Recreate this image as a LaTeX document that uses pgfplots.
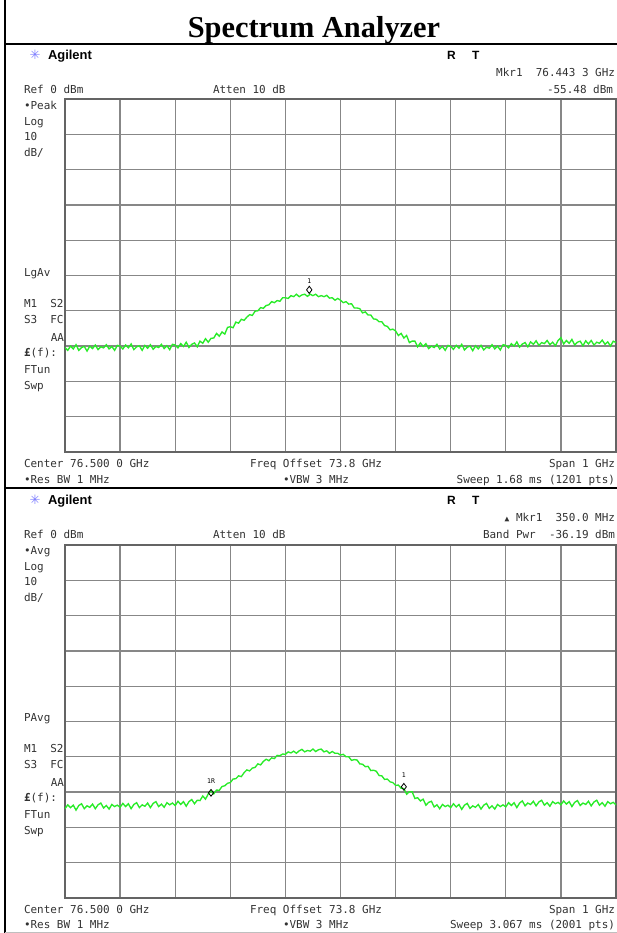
\documentclass[border=0pt]{standalone}
\usepackage{fontspec}
\usepackage{pgfplots}
\pgfplotsset{compat=1.18}
\usepackage{pgfplotstable}
\setmainfont{Liberation Serif}
\newfontfamily\mono{DejaVu Sans Mono}
\newfontfamily\arial{Liberation Sans}
\newfontfamily\djs{DejaVu Sans}
\definecolor{trace}{RGB}{40,235,40}
\definecolor{gridc}{RGB}{135,135,135}
\definecolor{boxc}{RGB}{100,100,100}
\definecolor{txt}{RGB}{50,50,50}
\definecolor{agstar}{RGB}{125,125,255}

\pgfplotstableread{
x y
76.000 -70.4
76.005 -71.2
76.010 -70.0
76.015 -70.8
76.020 -69.6
76.025 -71.2
76.030 -70.4
76.035 -70.1
76.040 -71.4
76.045 -70.0
76.050 -70.7
76.055 -69.7
76.060 -71.0
76.065 -70.2
76.070 -70.5
76.075 -69.6
76.080 -70.8
76.085 -70.1
76.090 -71.2
76.095 -69.8
76.100 -70.0
76.105 -70.8
76.110 -69.7
76.115 -70.5
76.120 -69.4
76.125 -71.0
76.130 -70.2
76.135 -69.9
76.140 -71.2
76.145 -69.8
76.150 -70.6
76.155 -69.6
76.160 -70.9
76.165 -70.1
76.170 -70.4
76.175 -69.5
76.180 -70.7
76.185 -69.9
76.190 -71.0
76.195 -69.5
76.200 -69.7
76.205 -70.5
76.210 -69.3
76.215 -70.1
76.220 -68.9
76.225 -70.4
76.230 -69.5
76.235 -69.1
76.240 -70.2
76.245 -68.6
76.250 -69.2
76.255 -67.9
76.260 -68.9
76.265 -67.8
76.270 -67.7
76.275 -66.4
76.280 -67.2
76.285 -66.0
76.290 -66.6
76.295 -64.7
76.300 -64.5
76.305 -64.8
76.310 -63.2
76.315 -63.5
76.320 -62.4
76.325 -62.7
76.330 -61.8
76.335 -61.1
76.340 -61.3
76.345 -60.1
76.350 -60.0
76.355 -59.1
76.360 -59.3
76.365 -58.5
76.370 -58.3
76.375 -57.4
76.380 -57.7
76.385 -57.1
76.390 -57.3
76.395 -56.3
76.400 -56.3
76.405 -56.5
76.410 -55.7
76.415 -56.0
76.420 -55.3
76.425 -56.0
76.430 -55.5
76.435 -55.3
76.440 -55.9
76.445 -55.3
76.450 -55.7
76.455 -55.3
76.460 -56.0
76.465 -55.7
76.470 -56.0
76.475 -55.6
76.480 -56.4
76.485 -56.3
76.490 -57.0
76.495 -56.5
76.500 -57.0
76.505 -57.7
76.510 -57.4
76.515 -58.1
76.520 -58.0
76.525 -59.2
76.530 -59.2
76.535 -59.4
76.540 -60.6
76.545 -60.3
76.550 -61.2
76.555 -61.2
76.560 -62.3
76.565 -62.4
76.570 -63.1
76.575 -63.1
76.580 -64.2
76.585 -64.4
76.590 -65.4
76.595 -65.2
76.600 -65.7
76.605 -67.0
76.610 -66.4
76.615 -67.7
76.620 -67.0
76.625 -69.0
76.630 -68.6
76.635 -68.6
76.640 -70.2
76.645 -69.1
76.650 -70.1
76.655 -69.3
76.660 -70.7
76.665 -70.0
76.670 -70.4
76.675 -69.5
76.680 -70.8
76.685 -70.1
76.690 -71.2
76.695 -69.8
76.700 -70.1
76.705 -70.9
76.710 -69.8
76.715 -70.6
76.720 -69.5
76.725 -71.1
76.730 -70.3
76.735 -70.0
76.740 -71.3
76.745 -69.9
76.750 -70.8
76.755 -69.8
76.760 -71.1
76.765 -70.3
76.770 -70.6
76.775 -69.6
76.780 -70.8
76.785 -70.0
76.790 -71.1
76.795 -69.6
76.800 -69.8
76.805 -70.5
76.810 -69.3
76.815 -70.0
76.820 -68.8
76.825 -70.3
76.830 -69.4
76.835 -69.0
76.840 -70.2
76.845 -68.8
76.850 -69.5
76.855 -68.5
76.860 -69.8
76.865 -69.0
76.870 -69.3
76.875 -68.4
76.880 -69.6
76.885 -68.9
76.890 -69.9
76.895 -68.4
76.900 -67.6
76.905 -69.4
76.910 -68.4
76.915 -69.2
76.920 -68.1
76.925 -69.7
76.930 -68.9
76.935 -68.6
76.940 -69.9
76.945 -68.5
76.950 -69.4
76.955 -68.4
76.960 -69.7
76.965 -68.9
76.970 -69.2
76.975 -68.3
76.980 -69.5
76.985 -68.8
76.990 -70.0
76.995 -68.6
77.000 -69.0
}\toptrace

\pgfplotstableread{
x y
76.000 -74.7
76.005 -73.6
76.010 -74.4
76.015 -73.7
76.020 -75.1
76.025 -73.8
76.030 -73.3
76.035 -74.7
76.040 -73.9
76.045 -74.3
76.050 -73.4
76.055 -74.7
76.060 -73.6
76.065 -73.1
76.070 -74.5
76.075 -73.8
76.080 -74.8
76.085 -73.5
76.090 -74.1
76.095 -73.7
76.100 -74.3
76.105 -73.2
76.110 -74.1
76.115 -73.3
76.120 -74.7
76.125 -73.5
76.130 -73.0
76.135 -74.4
76.140 -73.6
76.145 -74.0
76.150 -73.1
76.155 -74.4
76.160 -73.2
76.165 -72.7
76.170 -74.1
76.175 -73.4
76.180 -74.3
76.185 -73.0
76.190 -73.6
76.195 -73.1
76.200 -73.8
76.205 -72.6
76.210 -73.5
76.215 -72.7
76.220 -74.0
76.225 -72.7
76.230 -72.1
76.235 -73.3
76.240 -72.3
76.245 -72.4
76.250 -71.1
76.255 -72.0
76.260 -70.5
76.265 -69.6
76.270 -70.5
76.275 -69.4
76.280 -69.5
76.285 -68.4
76.290 -68.2
76.295 -67.5
76.300 -67.3
76.305 -66.3
76.310 -66.2
76.315 -65.4
76.320 -65.6
76.325 -64.5
76.330 -63.7
76.335 -64.0
76.340 -63.2
76.345 -63.0
76.350 -62.0
76.355 -62.3
76.360 -61.3
76.365 -60.7
76.370 -61.1
76.375 -60.3
76.380 -60.5
76.385 -59.6
76.390 -59.7
76.395 -59.2
76.400 -59.3
76.405 -58.6
76.410 -58.9
76.415 -58.4
76.420 -59.0
76.425 -58.3
76.430 -57.9
76.435 -58.6
76.440 -58.2
76.445 -58.4
76.450 -57.8
76.455 -58.5
76.460 -58.0
76.465 -57.8
76.470 -58.6
76.475 -58.3
76.480 -59.0
76.485 -58.5
76.490 -59.0
76.495 -59.0
76.500 -59.5
76.505 -59.3
76.510 -60.0
76.515 -60.0
76.520 -61.0
76.525 -60.8
76.530 -60.9
76.535 -62.0
76.540 -62.1
76.545 -62.8
76.550 -62.7
76.555 -63.9
76.560 -63.8
76.565 -64.1
76.570 -65.3
76.575 -65.4
76.580 -66.4
76.585 -66.3
76.590 -67.1
76.595 -67.3
76.600 -68.1
76.605 -68.0
76.610 -68.9
76.615 -69.0
76.620 -70.6
76.625 -69.9
76.630 -69.9
76.635 -71.8
76.640 -71.6
76.645 -72.5
76.650 -72.0
76.655 -73.7
76.660 -72.9
76.665 -72.6
76.670 -74.2
76.675 -73.6
76.680 -74.7
76.685 -73.5
76.690 -74.1
76.695 -73.7
76.700 -74.4
76.705 -73.3
76.710 -74.2
76.715 -73.5
76.720 -74.9
76.725 -73.7
76.730 -73.2
76.735 -74.6
76.740 -73.9
76.745 -74.3
76.750 -73.5
76.755 -74.8
76.760 -73.7
76.765 -73.2
76.770 -74.6
76.775 -73.9
76.780 -74.8
76.785 -73.5
76.790 -74.1
76.795 -73.6
76.800 -74.2
76.805 -73.0
76.810 -73.8
76.815 -73.0
76.820 -74.4
76.825 -73.1
76.830 -72.5
76.835 -73.9
76.840 -73.1
76.845 -73.5
76.850 -72.6
76.855 -73.9
76.860 -72.8
76.865 -72.3
76.870 -73.7
76.875 -73.0
76.880 -74.0
76.885 -72.7
76.890 -73.3
76.895 -72.9
76.900 -73.6
76.905 -72.5
76.910 -73.4
76.915 -72.7
76.920 -74.1
76.925 -72.9
76.930 -72.4
76.935 -73.8
76.940 -73.1
76.945 -73.5
76.950 -72.6
76.955 -73.9
76.960 -72.8
76.965 -72.3
76.970 -73.7
76.975 -73.0
76.980 -74.0
76.985 -72.7
76.990 -73.3
76.995 -72.9
77.000 -73.6
}\bottrace

\newcommand\lb[1]{{\mono\fontsize{11}{11}\selectfont\color{txt}#1}}

\pgfplotsset{sa/.style={
  scale only axis, width=551bp, height=353bp,
  xmin=76, xmax=77, ymin=-100, ymax=0,
  xtick={76,76.1,76.2,76.3,76.4,76.5,76.6,76.7,76.8,76.9,77},
  ytick={-100,-90,-80,-70,-60,-50,-40,-30,-20,-10,0},
  xticklabels={}, yticklabels={}, major tick length=0pt,
  grid=major, major grid style={gridc, line width=1.3bp},
  axis line style={boxc, line width=2bp},
}}

\begin{document}
\begin{tikzpicture}[every node/.style={inner sep=0pt, outer sep=0pt}]
\useasboundingbox (0,0) rectangle (617bp,-933bp);
% frame
\draw[line width=2bp] (5bp,0) -- (5bp,-933bp);
\draw[line width=1.6bp] (5bp,-44bp) -- (617bp,-44bp);
\draw[line width=2bp] (5bp,-488bp) -- (617bp,-488bp);
\draw[black!25, line width=1bp] (5bp,-932bp) -- (617bp,-932bp);
\node[anchor=base] at (314bp,-37bp) {\fontsize{30.5}{31}\selectfont\bfseries Spectrum Analyzer};

% ---------- top panel ----------
\begin{axis}[sa, at={(65bp,-452bp)}, anchor=south west]
\addplot[trace, line width=1.35bp] table[x=x,y=y] {\toptrace};
\addplot[only marks, mark=diamond, mark size=3.6bp,
  mark options={black, fill=white, line width=0.8bp, yshift=5bp}]
  coordinates {(76.4433,-55.48)};
\node[anchor=base, yshift=11bp] at (axis cs:76.4433,-55.48) {\mono\fontsize{6.5}{6.5}\selectfont 1};
\end{axis}

\node[anchor=center, text=agstar] at (35bp,-55bp) {\djs\fontsize{13}{13}\selectfont ✳};
\node[anchor=base west] at (48bp,-59bp) {\arial\bfseries\fontsize{13}{13}\selectfont Agilent};
\node[anchor=base west] at (447bp,-59bp) {\arial\bfseries\fontsize{12}{12}\selectfont R};
\node[anchor=base west] at (472bp,-59bp) {\arial\bfseries\fontsize{12}{12}\selectfont T};
\node[anchor=base east] at (615bp,-76bp) {\lb{Mkr1\ \ 76.443 3 GHz}};
\node[anchor=base west] at (24bp,-93bp) {\lb{Ref 0 dBm}};
\node[anchor=base west] at (213bp,-93bp) {\lb{Atten 10 dB}};
\node[anchor=base east] at (613bp,-93bp) {\lb{-55.48 dBm}};
\node[anchor=base west] at (24bp,-109bp) {\lb{•Peak}};
\node[anchor=base west] at (24bp,-125bp) {\lb{Log}};
\node[anchor=base west] at (24bp,-140bp) {\lb{10}};
\node[anchor=base west] at (24bp,-156bp) {\lb{dB/}};
\node[anchor=base west] at (24bp,-276bp) {\lb{LgAv}};
\node[anchor=base west] at (24bp,-307bp) {\lb{M1\ \ S2}};
\node[anchor=base west] at (24bp,-323bp) {\lb{S3\ \ FC}};
\node[anchor=base east] at (64bp,-341bp) {\lb{AA}};
\node[anchor=base west] at (24bp,-356bp) {\lb{{\bfseries £}(f):}};
\node[anchor=base west] at (24bp,-373bp) {\lb{FTun}};
\node[anchor=base west] at (24bp,-389bp) {\lb{Swp}};
\node[anchor=base west] at (24bp,-467bp) {\lb{Center 76.500 0 GHz}};
\node[anchor=base west] at (250bp,-467bp) {\lb{Freq Offset 73.8 GHz}};
\node[anchor=base east] at (615bp,-467bp) {\lb{Span 1 GHz}};
\node[anchor=base west] at (24bp,-483bp) {\lb{•Res BW 1 MHz}};
\node[anchor=base west] at (283bp,-483bp) {\lb{•VBW 3 MHz}};
\node[anchor=base east] at (615bp,-483bp) {\lb{Sweep 1.68 ms (1201 pts)}};

% ---------- bottom panel ----------
\begin{axis}[sa, at={(65bp,-898bp)}, anchor=south west]
\addplot[trace, line width=1.35bp] table[x=x,y=y] {\bottrace};
\addplot[only marks, mark=diamond, mark size=3.4bp,
  mark options={black, fill=white, line width=0.8bp}]
  coordinates {(76.265,-70.2) (76.615,-68.5)};
\node[anchor=base, yshift=9bp] at (axis cs:76.265,-70.2) {\mono\fontsize{6.5}{6.5}\selectfont 1R};
\node[anchor=base, yshift=9bp] at (axis cs:76.615,-68.5) {\mono\fontsize{6.5}{6.5}\selectfont 1};
\end{axis}

\node[anchor=center, text=agstar] at (35bp,-500bp) {\djs\fontsize{13}{13}\selectfont ✳};
\node[anchor=base west] at (48bp,-504bp) {\arial\bfseries\fontsize{13}{13}\selectfont Agilent};
\node[anchor=base west] at (447bp,-504bp) {\arial\bfseries\fontsize{12}{12}\selectfont R};
\node[anchor=base west] at (472bp,-504bp) {\arial\bfseries\fontsize{12}{12}\selectfont T};
\node[anchor=base east] at (615bp,-521bp) {\lb{{\fontsize{8}{8}\selectfont ▲}\ Mkr1\ \ 350.0 MHz}};
\node[anchor=base west] at (24bp,-538bp) {\lb{Ref 0 dBm}};
\node[anchor=base west] at (213bp,-538bp) {\lb{Atten 10 dB}};
\node[anchor=base east] at (615bp,-538bp) {\lb{Band Pwr\ \ -36.19 dBm}};
\node[anchor=base west] at (24bp,-554bp) {\lb{•Avg}};
\node[anchor=base west] at (24bp,-570bp) {\lb{Log}};
\node[anchor=base west] at (24bp,-585bp) {\lb{10}};
\node[anchor=base west] at (24bp,-601bp) {\lb{dB/}};
\node[anchor=base west] at (24bp,-721bp) {\lb{PAvg}};
\node[anchor=base west] at (24bp,-752bp) {\lb{M1\ \ S2}};
\node[anchor=base west] at (24bp,-768bp) {\lb{S3\ \ FC}};
\node[anchor=base east] at (64bp,-786bp) {\lb{AA}};
\node[anchor=base west] at (24bp,-801bp) {\lb{{\bfseries £}(f):}};
\node[anchor=base west] at (24bp,-818bp) {\lb{FTun}};
\node[anchor=base west] at (24bp,-834bp) {\lb{Swp}};
\node[anchor=base west] at (24bp,-913bp) {\lb{Center 76.500 0 GHz}};
\node[anchor=base west] at (250bp,-913bp) {\lb{Freq Offset 73.8 GHz}};
\node[anchor=base east] at (615bp,-913bp) {\lb{Span 1 GHz}};
\node[anchor=base west] at (24bp,-928bp) {\lb{•Res BW 1 MHz}};
\node[anchor=base west] at (283bp,-928bp) {\lb{•VBW 3 MHz}};
\node[anchor=base east] at (615bp,-928bp) {\lb{Sweep 3.067 ms (2001 pts)}};
\end{tikzpicture}
\end{document}
